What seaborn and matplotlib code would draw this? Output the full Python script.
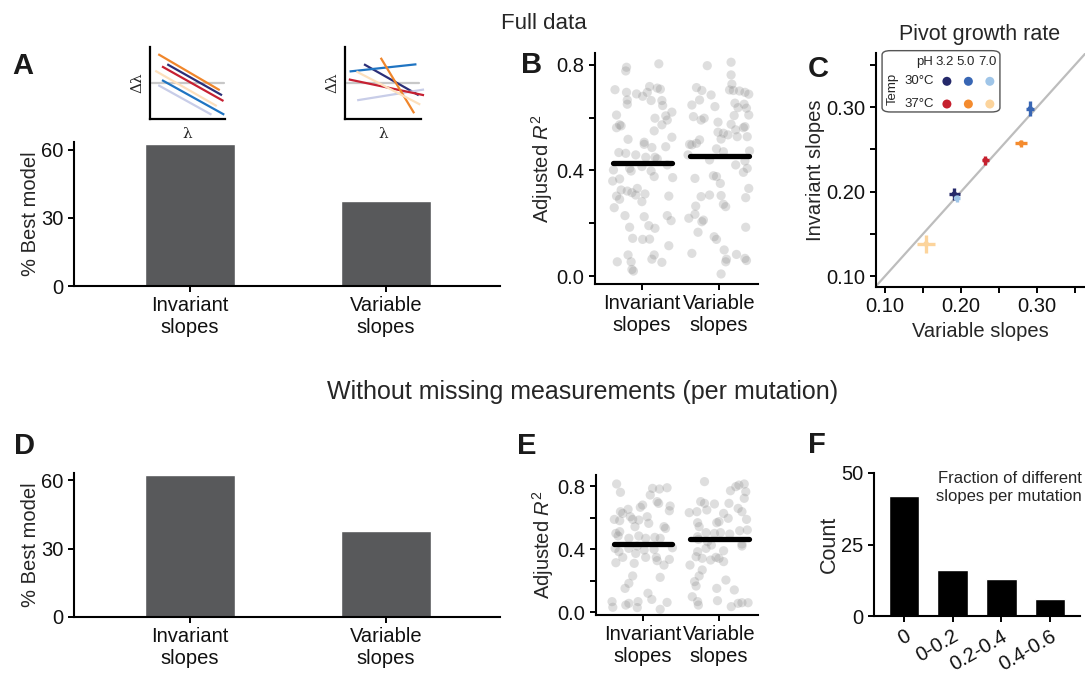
import numpy as np
import pandas as pd
import matplotlib
matplotlib.use("Agg")
import matplotlib.pyplot as plt
from matplotlib.patches import FancyBboxPatch
import seaborn as sns

# ---------------- data ----------------
models = ["Invariant\nslopes", "Variable\nslopes"]

# % of mutations for which each model is best
best_full = [62.7, 37.3]
best_complete = [62.3, 37.7]

# adjusted R^2 per mutation (full data), with horizontal jitter
r2_full_inv = [0.791, 0.777, 0.804, 0.706, 0.696, 0.690, 0.681, 0.696, 0.718, 0.712,
               0.708, 0.667, 0.651, 0.665, 0.665, 0.646, 0.610, 0.573, 0.562, 0.569,
               0.598, 0.607, 0.591, 0.621, 0.573, 0.550, 0.526, 0.518, 0.507, 0.499,
               0.487, 0.490, 0.468, 0.465, 0.459, 0.450, 0.450, 0.444, 0.421, 0.402,
               0.408, 0.398, 0.415, 0.398, 0.360, 0.368, 0.377, 0.373, 0.326, 0.322,
               0.316, 0.307, 0.332, 0.311, 0.303, 0.291, 0.282, 0.259, 0.303, 0.229,
               0.225, 0.229, 0.210, 0.185, 0.191, 0.181, 0.143, 0.139, 0.140, 0.115,
               0.080, 0.054, 0.054, 0.080, 0.064, 0.052, 0.025, 0.019]
jit_full_inv = [-0.20, -0.21, 0.22, -0.35, -0.20, -0.07, 0.01, 0.07, 0.10, 0.20,
                0.24, -0.19, -0.19, 0.12, 0.26, 0.27, -0.33, -0.29, -0.33, -0.27,
                0.17, 0.31, 0.33, 0.39, 0.26, 0.16, 0.39, -0.18, 0.03, 0.03,
                0.13, 0.31, -0.30, -0.21, -0.08, 0.05, 0.17, 0.20, 0.33, -0.37,
                -0.16, -0.14, 0.00, 0.12, -0.38, -0.29, 0.16, 0.40, -0.27, -0.19,
                -0.13, -0.08, -0.06, 0.04, -0.33, -0.29, 0.00, -0.36, 0.35, -0.22,
                0.03, 0.33, 0.38, -0.16, 0.09, 0.17, -0.12, 0.01, 0.10, 0.35,
                -0.18, -0.32, -0.14, 0.16, 0.13, 0.26, -0.13, -0.11]
r2_full_var = [0.797, 0.810, 0.762, 0.727, 0.714, 0.703, 0.686, 0.705, 0.703, 0.701,
               0.696, 0.689, 0.648, 0.667, 0.642, 0.655, 0.638, 0.651, 0.636, 0.604,
               0.591, 0.598, 0.608, 0.610, 0.583, 0.575, 0.562, 0.566, 0.545, 0.541,
               0.535, 0.554, 0.528, 0.519, 0.528, 0.499, 0.497, 0.516, 0.503, 0.482,
               0.471, 0.474, 0.459, 0.440, 0.421, 0.436, 0.408, 0.393, 0.370, 0.380,
               0.377, 0.351, 0.332, 0.297, 0.301, 0.307, 0.305, 0.272, 0.263, 0.265,
               0.234, 0.212, 0.206, 0.219, 0.185, 0.166, 0.149, 0.139, 0.099, 0.086,
               0.064, 0.054, 0.082, 0.067, 0.059, 0.008]
jit_full_var = [-0.15, 0.16, 0.16, 0.17, -0.29, -0.22, -0.10, 0.14, 0.19, 0.27,
                0.34, 0.39, -0.35, -0.25, -0.05, 0.21, 0.25, 0.33, 0.36, -0.33,
                -0.23, -0.19, 0.20, 0.39, -0.01, 0.16, 0.32, 0.34, -0.01, 0.06,
                0.12, 0.22, 0.24, 0.03, 0.37, -0.38, -0.35, -0.25, -0.29, -0.03,
                0.06, 0.40, -0.40, -0.12, 0.22, 0.34, 0.37, 0.32, -0.31, -0.07,
                -0.03, 0.02, 0.39, 0.35, -0.23, -0.12, 0.03, 0.06, 0.09, -0.30,
                -0.31, -0.20, -0.22, -0.39, 0.35, -0.27, -0.06, -0.03, 0.07, -0.35,
                0.10, 0.09, 0.23, 0.34, 0.36, 0.03]
r2_full_means = [0.428, 0.455]

# adjusted R^2 per mutation (no missing measurements)
r2_comp_inv = [0.813, 0.760, 0.785, 0.781, 0.789, 0.743, 0.701, 0.690, 0.679, 0.665,
               0.652, 0.637, 0.626, 0.673, 0.643, 0.588, 0.580, 0.605, 0.588, 0.584,
               0.605, 0.563, 0.542, 0.542, 0.531, 0.499, 0.510, 0.483, 0.468, 0.483,
               0.468, 0.474, 0.468, 0.404, 0.383, 0.347, 0.404, 0.419, 0.394, 0.398,
               0.408, 0.313, 0.309, 0.372, 0.347, 0.347, 0.326, 0.298, 0.334, 0.229,
               0.182, 0.150, 0.220, 0.119, 0.080, 0.066, 0.030, 0.044, 0.055, 0.066,
               0.028, 0.017, 0.061]
jit_comp_inv = [-0.34, -0.29, 0.13, 0.22, 0.32, 0.10, 0.19, 0.21, 0.00, -0.03,
                -0.19, -0.29, -0.26, 0.36, 0.35, -0.37, -0.30, -0.16, -0.13, -0.05,
                0.06, 0.08, -0.10, 0.28, 0.30, -0.35, -0.30, -0.32, -0.18, -0.05,
                0.04, 0.16, 0.23, -0.36, -0.31, -0.26, -0.18, -0.07, 0.02, 0.15,
                0.39, -0.35, -0.11, -0.09, 0.04, 0.18, 0.19, 0.28, 0.35, -0.13,
                -0.18, -0.23, 0.23, 0.07, 0.12, -0.40, -0.39, -0.22, -0.18, -0.06,
                -0.07, 0.23, 0.32]
r2_comp_var = [0.828, 0.770, 0.796, 0.806, 0.813, 0.764, 0.722, 0.701, 0.690, 0.686,
               0.648, 0.631, 0.637, 0.690, 0.658, 0.637, 0.626, 0.595, 0.588, 0.567,
               0.542, 0.567, 0.574, 0.504, 0.499, 0.504, 0.495, 0.516, 0.521, 0.478,
               0.461, 0.447, 0.425, 0.404, 0.383, 0.389, 0.432, 0.419, 0.351, 0.341,
               0.330, 0.347, 0.341, 0.320, 0.298, 0.267, 0.229, 0.193, 0.165, 0.203,
               0.150, 0.140, 0.097, 0.066, 0.044, 0.072, 0.034, 0.055, 0.059, 0.059]
jit_comp_var = [-0.19, 0.15, 0.22, 0.26, 0.33, 0.35, 0.33, -0.24, -0.19, -0.06,
                -0.16, -0.39, -0.29, 0.13, 0.25, 0.30, 0.06, 0.12, 0.36, -0.28,
                -0.26, -0.03, 0.00, -0.17, -0.06, 0.02, 0.14, 0.27, 0.37, -0.28,
                -0.27, -0.15, -0.10, -0.17, -0.28, 0.06, 0.30, 0.30, -0.30, -0.22,
                -0.11, -0.04, 0.00, 0.06, -0.38, -0.22, -0.26, -0.32, -0.30, 0.09,
                -0.03, 0.20, -0.35, -0.28, -0.27, -0.02, 0.16, 0.25, 0.30, 0.38]
r2_comp_means = [0.430, 0.465]

# pivot growth rate per condition: variable-slopes vs invariant-slopes estimate
temps = ["30°C", "30°C", "30°C", "37°C", "37°C", "37°C"]
phs = ["3.2", "5.0", "7.0", "3.2", "5.0", "7.0"]
pivot_var = [0.191, 0.291, 0.194, 0.232, 0.279, 0.154]
pivot_var_err = [0.007, 0.005, 0.004, 0.005, 0.008, 0.012]
pivot_inv = [0.197, 0.298, 0.192, 0.237, 0.257, 0.138]
pivot_inv_err = [0.007, 0.009, 0.004, 0.005, 0.004, 0.011]
cond_colors = ["#25296a", "#3866b4", "#9fc5e8", "#c6202e", "#f48b2e", "#fcd49c"]

# schematic fits (same condition order): line endpoints in unit box
scheme_colors = ["#2b2f78", "#1f74c2", "#c8cde8", "#c62032", "#f0862b", "#fde0bd"]
inv_x0 = [0.23, 0.16, 0.11, 0.16, 0.11, 0.07]
inv_x1 = [0.96, 0.99, 0.82, 0.98, 0.93, 0.89]
inv_y0 = [0.76, 0.54, 0.47, 0.73, 0.90, 0.67]
inv_y1 = [0.33, 0.06, 0.06, 0.25, 0.40, 0.18]
var_x0 = [0.25, 0.06, 0.16, 0.05, 0.47, 0.15]
var_x1 = [0.97, 0.94, 1.04, 1.04, 0.91, 0.99]
var_y0 = [0.76, 0.66, 0.26, 0.55, 0.85, 0.66]
var_y1 = [0.33, 0.76, 0.41, 0.33, 0.08, 0.20]

# fraction of different slopes per mutation
frac_bins = ["0", "0-0.2", "0.2-0.4", "0.4-0.6"]
frac_counts = [42, 16, 13, 6]

# ---------------- style ----------------
sns.set_theme(style="ticks")
plt.rcParams["font.family"] = ["Liberation Sans", "DejaVu Sans"]
plt.rcParams["mathtext.fontset"] = "custom"
plt.rcParams["mathtext.rm"] = "Liberation Sans"
plt.rcParams["mathtext.it"] = "Liberation Sans:italic"
plt.rcParams["axes.linewidth"] = 1.5
plt.rcParams["axes.edgecolor"] = "black"

W, H = 1085, 673
fig = plt.figure(figsize=(W / 100, H / 100), dpi=100)


def px_rect(x0, y0, x1, y1):
    return [x0 / W, 1 - y1 / H, (x1 - x0) / W, (y1 - y0) / H]


def fig_text(x, y, s, **kw):
    fig.text(x / W, 1 - y / H, s, **kw)


TICK_FS = 14.5
LABEL_FS = 14.5


def style_axes(ax, fs=TICK_FS):
    sns.despine(ax=ax)
    ax.tick_params(axis="both", which="both", direction="out", length=4.5,
                   width=1.4, labelsize=fs, color="black", labelcolor="#111111", pad=3)


BAR_GREY = "#58595b"


def bar_panel(rect, values, top):
    ax = fig.add_axes(rect)
    df = pd.DataFrame({"model": models, "pct": values})
    sns.barplot(data=df, x="model", y="pct", order=models, color=BAR_GREY,
                saturation=1, width=0.46, ax=ax)
    ax.set_xlim(-0.59, 1.58)
    ax.set_ylim(0, top)
    ax.set_yticks([0, 30, 60])
    ax.set_xlabel("")
    ax.set_ylabel("% Best model", fontsize=LABEL_FS, labelpad=1)
    style_axes(ax)
    return ax


def strip_panel(rect, vals_inv, jit_inv, vals_var, jit_var, means, ylim):
    ax = fig.add_axes(rect)
    df = pd.DataFrame({
        "model": [models[0]] * len(vals_inv) + [models[1]] * len(vals_var),
        "jitter": jit_inv + jit_var,
        "r2": vals_inv + vals_var,
    })
    df["pos"] = df["model"].map({m: i for i, m in enumerate(models)}) + df["jitter"]
    sns.scatterplot(data=df, x="pos", y="r2", color="#7f7f7f", alpha=0.25,
                    s=44, edgecolor="none", linewidth=0, ax=ax, legend=False)
    for i, m in enumerate(means):
        ax.plot([i - 0.38, i + 0.39], [m, m], color="black", lw=3.8,
                solid_capstyle="round", zorder=5)
    ax.set_xlim(-0.61, 1.51)
    ax.set_ylim(*ylim)
    ax.set_xticks([0, 1])
    ax.set_xticklabels(models)
    ax.set_yticks([0.0, 0.4, 0.8])
    ax.set_yticks([0.2, 0.6], minor=True)
    ax.set_xlabel("")
    ax.set_ylabel(r"Adjusted $\it{R}^2$", fontsize=LABEL_FS, labelpad=1)
    style_axes(ax)
    return ax


# ---------------- panel A ----------------
axA = bar_panel(px_rect(74, 142, 500, 286), best_full, 63.5)


def schematic(rect, x0, x1, y0, y1):
    ax = fig.add_axes(rect)
    ax.axhline(0.5, xmin=0.02, xmax=0.98, color="#c8c8c8", lw=1.6, zorder=1)
    for a, b, c, d, col in zip(x0, x1, y0, y1, scheme_colors):
        ax.plot([a, b], [c, d], color=col, lw=1.6, solid_capstyle="butt", clip_on=False)
    ax.set_xlim(0, 1)
    ax.set_ylim(0, 1)
    ax.set_xticks([])
    ax.set_yticks([])
    sns.despine(ax=ax)
    ax.spines["left"].set_linewidth(1.6)
    ax.spines["bottom"].set_linewidth(1.6)
    ax.set_ylabel("Δλ", fontsize=11, family="DejaVu Serif", labelpad=4)
    ax.set_xlabel("λ", fontsize=11, family="DejaVu Serif", labelpad=6)
    return ax


schematic(px_rect(150, 47, 225, 119), inv_x0, inv_x1, inv_y0, inv_y1)
schematic(px_rect(345, 47, 421, 119), var_x0, var_x1, var_y0, var_y1)

# ---------------- panel B ----------------
axB = strip_panel(px_rect(595, 53, 758, 284), r2_full_inv, jit_full_inv,
                  r2_full_var, jit_full_var, r2_full_means, (-0.03, 0.845))

# ---------------- panel C ----------------
axC = fig.add_axes(px_rect(876, 53, 1085, 287))
axC.axline((0.1, 0.1), slope=1, color="#bdbdbd", lw=1.6, zorder=1)
cdf = pd.DataFrame({"temp": temps, "ph": phs, "var": pivot_var, "inv": pivot_inv,
                    "var_err": pivot_var_err, "inv_err": pivot_inv_err,
                    "color": cond_colors})
for _, r in cdf.iterrows():
    axC.errorbar(r["var"], r["inv"], xerr=r["var_err"], yerr=r["inv_err"],
                 fmt="none", ecolor=r["color"], elinewidth=2.4, capsize=0, zorder=3)
sns.scatterplot(data=cdf, x="var", y="inv", hue="color", palette=cond_colors,
                hue_order=cond_colors, s=16, edgecolor="none", legend=False,
                ax=axC, zorder=4)
axC.set_xlim(0.088, 0.363)
axC.set_ylim(0.087, 0.364)
axC.set_xticks([0.10, 0.20, 0.30])
axC.set_xticks([0.15, 0.25, 0.35], minor=True)
axC.set_yticks([0.10, 0.20, 0.30])
axC.set_yticks([0.15, 0.25, 0.35], minor=True)
axC.set_xticklabels(["0.10", "0.20", "0.30"])
axC.set_yticklabels(["0.10", "0.20", "0.30"])
axC.set_xlabel("Variable slopes", fontsize=LABEL_FS, labelpad=4)
axC.set_ylabel("Invariant slopes", fontsize=LABEL_FS, labelpad=1)
style_axes(axC)

# legend: temperature x pH grid of condition colours
lg = axC.inset_axes([0.029, 0.748, 0.564, 0.262])
ph_levels = ["3.2", "5.0", "7.0"]
temp_levels = ["30°C", "37°C"]
cdf["ph_i"] = cdf["ph"].map({p: i for i, p in enumerate(ph_levels)})
cdf["t_i"] = cdf["temp"].map({t: i for i, t in enumerate(temp_levels)})
sns.scatterplot(data=cdf, x="ph_i", y="t_i", hue="color", palette=cond_colors,
                hue_order=cond_colors, s=42, edgecolor="none", legend=False, ax=lg)
lg.set_xlim(-3.02, 2.47)
lg.set_ylim(1.35, -1.35)
lg.set_xticks([])
lg.set_yticks([])
lg.set_xlabel("")
lg.set_ylabel("")
lg.axis("off")
lg.add_patch(FancyBboxPatch((0, 0), 1, 1, boxstyle="round,pad=0,rounding_size=0.07",
                            transform=lg.transAxes, facecolor="white",
                            edgecolor="#555555", lw=1.0, clip_on=False, zorder=0))
lg.text(-0.66, -0.85, "pH", fontsize=9.5, ha="right", va="center")
for i, p in enumerate(ph_levels):
    lg.text(i - 0.12, -0.85, p, fontsize=9.5, ha="center", va="center")
for j, t in enumerate(temp_levels):
    lg.text(-0.62, j, t, fontsize=9.5, ha="right", va="center")
lg.text(-2.5, 0.35, "Temp", fontsize=9.5, ha="center", va="center", rotation=90)

# ---------------- panel D ----------------
axD = bar_panel(px_rect(74, 473, 500, 617), best_complete, 63.1)

# ---------------- panel E ----------------
axE = strip_panel(px_rect(596, 475, 758, 615), r2_comp_inv, jit_comp_inv,
                  r2_comp_var, jit_comp_var, r2_comp_means, (-0.019, 0.87))

# ---------------- panel F ----------------
axF = fig.add_axes(px_rect(874, 473, 1080, 616))
fdf = pd.DataFrame({"bin": frac_bins, "count": frac_counts})
sns.barplot(data=fdf, x="bin", y="count", order=frac_bins, color="black",
            saturation=1, width=0.63, ax=axF)
axF.set_xlim(-0.62, 3.62)
axF.set_ylim(0, 50)
axF.set_yticks([0, 25, 50])
axF.set_xlabel("")
axF.set_ylabel("Count", fontsize=LABEL_FS + 1, labelpad=1)
style_axes(axF)
for lab in axF.get_xticklabels():
    lab.set_rotation(30)
    lab.set_ha("right")
    lab.set_rotation_mode("anchor")
axF.text(1.01, 0.9, "Fraction of different\nslopes per mutation", transform=axF.transAxes,
         ha="right", va="center", fontsize=12, linespacing=1.25)

# ---------------- titles and panel letters ----------------
fig_text(544, 29, "Full data", fontsize=16, ha="center", va="baseline")
fig_text(980, 40, "Pivot growth rate", fontsize=15.5, ha="center", va="baseline")
fig_text(583, 399, "Without missing measurements (per mutation)", fontsize=18,
         ha="center", va="baseline")
for letter, x, y in [("A", 12, 74), ("B", 521, 73), ("C", 808, 77),
                     ("D", 14, 454), ("E", 517, 454), ("F", 808, 453)]:
    fig_text(x, y, letter, fontsize=21, fontweight="bold", ha="left", va="baseline",
             color="#1a1a1a")

fig.savefig("out.png", dpi=100, facecolor="white")
